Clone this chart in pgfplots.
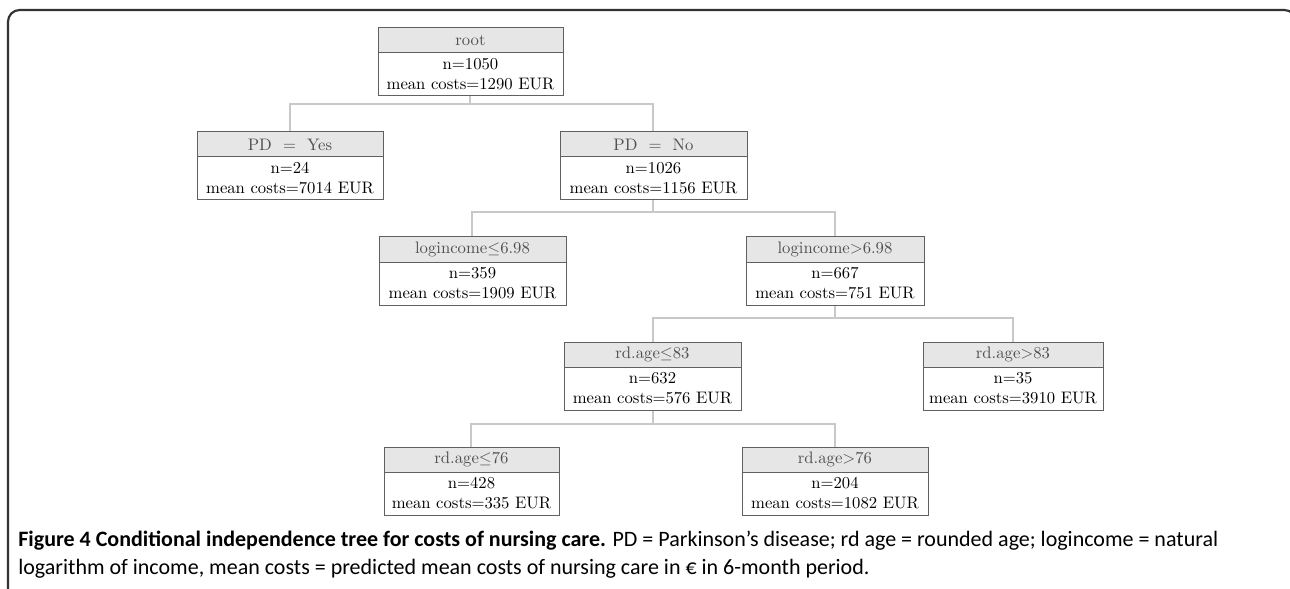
\documentclass[border=0pt]{standalone}
\usepackage{fontspec}
\usepackage{pgfplots}
\pgfplotsset{compat=1.18}
\newfontfamily\capfont{Carlito}
\definecolor{bd}{HTML}{606060}
\definecolor{hdr}{HTML}{E6E6E6}
\definecolor{conn}{HTML}{C8C8C8}
\definecolor{frame}{HTML}{333333}
\definecolor{hdrtext}{HTML}{505050}
% x1, x2, ytop, header, line1, line2
\newcommand{\tbox}[6]{%
  \draw[bd, line width=0.6pt, fill=hdr] ({#1},{#3}) rectangle ({#2},{#3+25});
  \draw[bd, line width=0.6pt, fill=white] ({#1},{#3+25}) rectangle ({#2},{#3+68});
  \node[text=hdrtext, inner sep=0pt] at ({(#1+#2)/2},{#3+12.5}) {#4};
  \node[align=center, inner sep=0pt] at ({(#1+#2)/2},{#3+46.5}) {#5\\#6};
}
\begin{document}
\begin{tikzpicture}
\begin{axis}[at={(0,0)}, anchor=south west, scale only axis,
  width=774pt, height=353.4pt,
  xmin=0, xmax=1290, ymin=0, ymax=589, y dir=reverse,
  hide axis, clip=false]
\path (0,0) coordinate (TL);
\path (1290,589) coordinate (BR);
% frame
\draw[frame, line width=1.3pt, rounded corners=7pt] (8,620) -- (8,10) -- (1296,10) -- (1296,620);
% connectors
\addplot[conn, line width=0.7pt] coordinates {(470,93) (470,104)};
\addplot[conn, line width=0.7pt] coordinates {(290,132) (290,104) (653,104) (653,132)};
\addplot[conn, line width=0.7pt] coordinates {(653,200) (653,212)};
\addplot[conn, line width=0.7pt] coordinates {(472,237) (472,212) (835,212) (835,237)};
\addplot[conn, line width=0.7pt] coordinates {(835,305) (835,318)};
\addplot[conn, line width=0.7pt] coordinates {(653,342) (653,318) (1013,318) (1013,342)};
\addplot[conn, line width=0.7pt] coordinates {(653,410) (653,424)};
\addplot[conn, line width=0.7pt] coordinates {(471,447) (471,424) (835,424) (835,447)};
% boxes
\tbox{378}{563}{28}{root}{n=1050}{mean costs=1290 EUR}
\tbox{197}{383}{132}{PD\ \ =\ \ Yes}{n=24}{mean costs=7014 EUR}
\tbox{560}{747}{132}{PD\ \ =\ \ No}{n=1026}{mean costs=1156 EUR}
\tbox{379}{566}{237}{logincome$\leq$6.98}{n=359}{mean costs=1909 EUR}
\tbox{746}{924}{237}{logincome$>$6.98}{n=667}{mean costs=751 EUR}
\tbox{564}{741}{342}{rd.age$\leq$83}{n=632}{mean costs=576 EUR}
\tbox{923}{1103}{342}{rd.age$>$83}{n=35}{mean costs=3910 EUR}
\tbox{384}{559}{447}{rd.age$\leq$76}{n=428}{mean costs=335 EUR}
\tbox{742}{928}{447}{rd.age$>$76}{n=204}{mean costs=1082 EUR}
% caption
\node[anchor=west, inner sep=0pt, font=\capfont\fontsize{13.2}{15}\selectfont] at (18,541)
  {\textbf{Figure 4 Conditional independence tree for costs of nursing care.} PD = Parkinson’s disease; rd age = rounded age; logincome = natural};
\node[anchor=west, inner sep=0pt, font=\capfont\fontsize{13.2}{15}\selectfont] at (18,569)
  {logarithm of income, mean costs = predicted mean costs of nursing care in € in 6-month period.};
\end{axis}
\pgfresetboundingbox
\path (TL) rectangle (BR);
\end{tikzpicture}
\end{document}
